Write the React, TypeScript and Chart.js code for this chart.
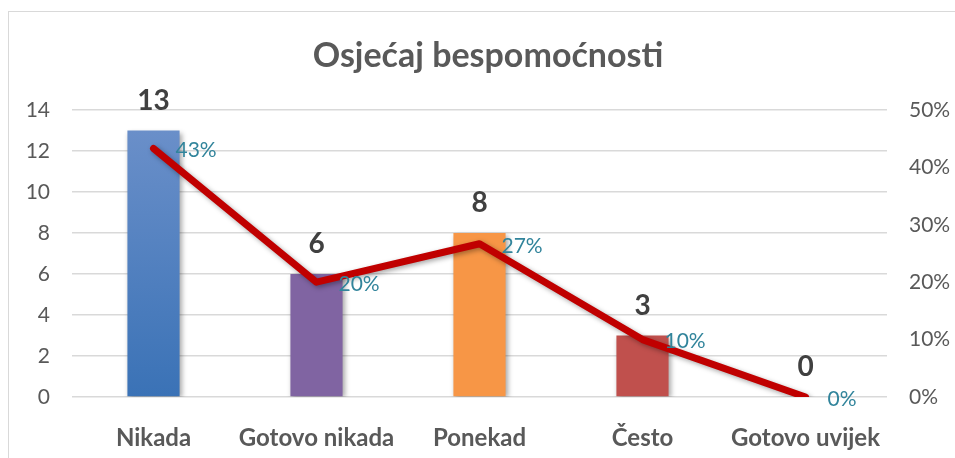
import React, { useEffect, useRef } from "react";
import { Chart, registerables } from "chart.js";

Chart.register(...registerables);

const categories = ["Nikada", "Gotovo nikada", "Ponekad", "Često", "Gotovo uvijek"];
const counts = [13, 6, 8, 3, 0];
const shares = [0.433, 0.2, 0.267, 0.1, 0];
const barColors = ["#4A7DC0", "#8064A2", "#F79646", "#C0504D", "#4BACC6"];
const leftTicks = [0, 2, 4, 6, 8, 10, 12, 14];
const rightTicks = ["0%", "10%", "20%", "30%", "40%", "50%"];
const titleText = "Osjećaj bespomoćnosti";

const FONT = "Lato, 'Open Sans', sans-serif";

const labelPlugin = {
  id: "customLabels",
  beforeDatasetDraw(chart: any) {
    const ctx = chart.ctx;
    ctx.save();
    ctx.shadowColor = "rgba(0,0,0,0.35)";
    ctx.shadowBlur = 5;
    ctx.shadowOffsetX = 2;
    ctx.shadowOffsetY = 2;
  },
  afterDatasetDraw(chart: any) {
    chart.ctx.restore();
  },
  afterDraw(chart: any) {
    const ctx = chart.ctx;
    ctx.save();
    ctx.fillStyle = "#595959";
    ctx.font = `bold 34px ${FONT}`;
    ctx.textAlign = "center";
    ctx.textBaseline = "middle";
    ctx.fillText(titleText, 488, 56);
    const barMeta = chart.getDatasetMeta(0);
    ctx.fillStyle = "#404040";
    ctx.font = `bold 28px ${FONT}`;
    barMeta.data.forEach((el: any, i: number) => {
      ctx.fillText(String(counts[i]), el.x, el.y - 30);
    });
    const lineMeta = chart.getDatasetMeta(1);
    ctx.fillStyle = "#31849B";
    ctx.font = `21px ${FONT}`;
    ctx.textAlign = "left";
    lineMeta.data.forEach((el: any, i: number) => {
      ctx.fillText(Math.round(shares[i] * 100) + "%", el.x + 22, el.y + 2);
    });
    ctx.restore();
  },
};

export default function App() {
  const ref = useRef<HTMLCanvasElement>(null);
  useEffect(() => {
    if (!ref.current) return;
    const chart = new Chart(ref.current, {
      data: {
        labels: categories,
        datasets: [
          {
            type: "bar",
            data: counts,
            yAxisID: "y",
            order: 2,
            backgroundColor: (c: any) => {
              const i = c.dataIndex;
              if (i === 0) {
                const g = c.chart.ctx.createLinearGradient(0, 130, 0, 397);
                g.addColorStop(0, "#6A8FC9");
                g.addColorStop(1, "#3A72B6");
                return g;
              }
              return barColors[i];
            },
            barPercentage: 0.32,
            categoryPercentage: 1,
          },
          {
            type: "line",
            data: shares,
            yAxisID: "y1",
            order: 1,
            borderColor: "#C00000",
            borderWidth: 7,
            pointRadius: 0,
            borderCapStyle: "round",
            borderJoinStyle: "round",
            tension: 0,
          },
        ],
      } as any,
      options: {
        animation: false,
        responsive: false,
        layout: { padding: { top: 110, left: 0, right: 0, bottom: 0 } },
        plugins: { legend: { display: false }, tooltip: { enabled: false }, title: { display: false } },
        scales: {
          x: {
            grid: { display: false },
            border: { display: false },
            ticks: { color: "#595959", font: { family: FONT, size: 24, weight: "bold" }, padding: 19 },
            afterFit: (s: any) => { s.height = 61; },
          },
          y: {
            position: "left",
            min: leftTicks[0],
            max: leftTicks[leftTicks.length - 1],
            ticks: { stepSize: 2, color: "#595959", font: { family: FONT, size: 21 }, padding: 22 },
            grid: { color: "#D9D9D9", lineWidth: 1.5, drawTicks: false },
            border: { display: false },
            afterFit: (s: any) => { s.width = 72; },
          },
          y1: {
            position: "right",
            min: 0,
            max: 0.5,
            ticks: {
              stepSize: 0.1,
              color: "#595959",
              font: { family: FONT, size: 21 },
              padding: 22,
              callback: (v: any) => rightTicks[Math.round(Number(v) * 10)] ?? "",
            },
            grid: { display: false, drawTicks: false },
            border: { display: false },
            afterFit: (s: any) => { s.width = 68; },
          },
        },
      } as any,
      plugins: [labelPlugin],
    });
    return () => chart.destroy();
  }, []);
  return (
    <div style={{ position: "fixed", left: 0, top: 0, width: 955, height: 458, background: "#fff", overflow: "hidden" }}>
      <div style={{ position: "absolute", left: 8, top: 11, width: 980, height: 480, border: "1px solid #D9D9D9" }} />
      <canvas ref={ref} width={955} height={458} style={{ position: "absolute", left: 0, top: 0 }} />
    </div>
  );
}
